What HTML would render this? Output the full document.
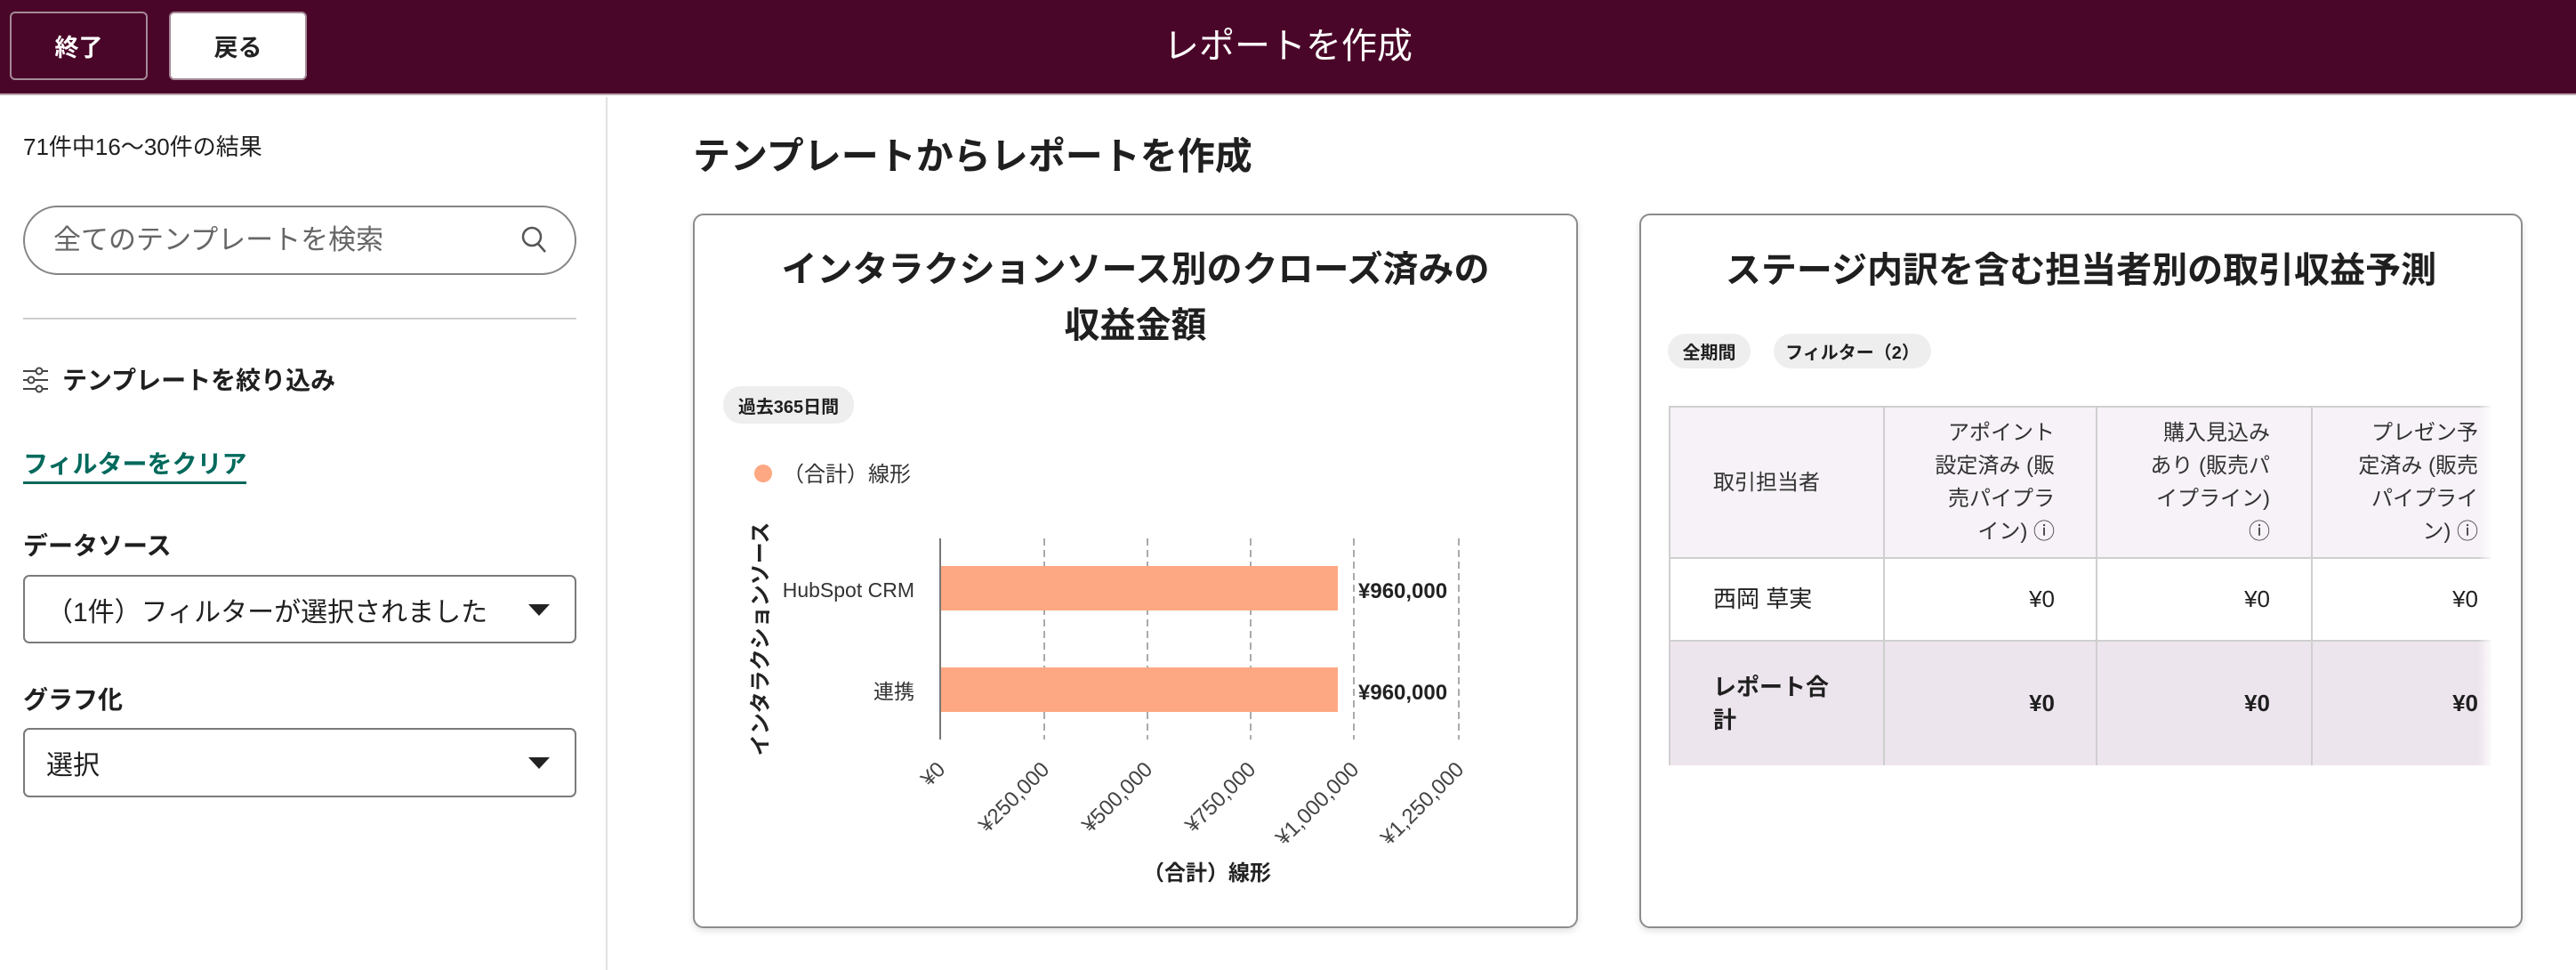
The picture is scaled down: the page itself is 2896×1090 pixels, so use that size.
<!DOCTYPE html>
<html><head><meta charset="utf-8">
<style>
*{margin:0;padding:0;box-sizing:border-box}
body{width:2896px;height:1090px;overflow:hidden;background:#fff;font-family:"Liberation Sans","Noto Sans CJK JP",sans-serif;color:#1f1f1f;position:relative}
.a{position:absolute;white-space:nowrap}
.hdr{left:0;top:0;width:2896px;height:107px;background:#4a0629;border-bottom:2px solid #b9a3ae}
.btn{top:13px;height:77px;width:155px;border:2px solid #a58a98;border-radius:6px;font-size:27px;font-weight:bold;display:flex;align-items:center;justify-content:center}
.card{border:2px solid #8c8c8c;border-radius:12px;background:#fff;box-shadow:0 3px 8px rgba(0,0,0,.12)}
.chip{background:#eeeeee;border-radius:20px;font-size:20px;font-weight:bold;display:flex;align-items:center;justify-content:center}
.sel{left:26px;width:622px;border:2px solid #7a7a7a;border-radius:7px;font-size:30px;display:flex;align-items:center;padding-left:24px}
.tri{position:absolute;right:28px;top:50%;margin-top:-6px;border-left:12px solid transparent;border-right:12px solid transparent;border-top:13px solid #222}
td{border:2px solid #cfcfcf;font-size:24px;line-height:37px;vertical-align:middle}
.h{text-align:right;white-space:nowrap;color:#333}
</style></head><body>
<div class="a hdr"></div>
<div class="a btn" style="left:11px;color:#fff;background:#4a0629">終了</div>
<div class="a btn" style="left:190px;background:#fff;color:#222">戻る</div>
<div class="a" style="left:0;width:2896px;top:24px;text-align:center;font-size:40px;color:#fff;line-height:56px">レポートを作成</div>

<div class="a" style="left:681px;top:109px;width:2px;height:981px;background:#e2e2e2"></div>
<div class="a" style="left:26px;top:148px;font-size:26px;line-height:34px">71件中16〜30件の結果</div>
<div class="a" style="left:26px;top:231px;width:622px;height:78px;border:2px solid #858585;border-radius:40px"></div>
<div class="a" style="left:60px;top:250px;font-size:31px;color:#666;line-height:40px">全てのテンプレートを検索</div>
<svg class="a" style="left:584px;top:252px" width="34" height="36"><circle cx="14" cy="14" r="10" fill="none" stroke="#555" stroke-width="2.5"/><line x1="21" y1="22" x2="29" y2="31" stroke="#555" stroke-width="2.5"/></svg>
<div class="a" style="left:26px;top:357px;width:622px;height:2px;background:#cfcfcf"></div>
<svg class="a" style="left:26px;top:412px" width="30" height="30" stroke="#444" stroke-width="2" fill="#fff"><line x1="0" y1="5" x2="28" y2="5"/><line x1="0" y1="15" x2="28" y2="15"/><line x1="0" y1="25" x2="28" y2="25"/><circle cx="18" cy="5" r="3.5"/><circle cx="9" cy="15" r="3.5"/><circle cx="18" cy="25" r="3.5"/></svg>
<div class="a" style="left:70px;top:409px;font-size:28px;font-weight:bold;line-height:38px">テンプレートを絞り込み</div>
<div class="a" style="left:26px;top:503px;font-size:28px;font-weight:bold;line-height:38px;color:#00695c;border-bottom:3px solid #00695c">フィルターをクリア</div>
<div class="a" style="left:26px;top:595px;font-size:28px;font-weight:bold;line-height:38px">データソース</div>
<div class="a sel" style="top:646px;height:77px">（1件）フィルターが選択されました<span class="tri"></span></div>
<div class="a" style="left:26px;top:768px;font-size:28px;font-weight:bold;line-height:38px">グラフ化</div>
<div class="a sel" style="top:818px;height:78px">選択<span class="tri"></span></div>

<div class="a" style="left:779px;top:150px;font-size:42px;font-weight:bold;line-height:52px">テンプレートからレポートを作成</div>

<div class="a card" style="left:779px;top:240px;width:995px;height:803px"></div>
<div class="a" style="left:779px;width:995px;top:272px;text-align:center;font-size:40px;font-weight:bold;line-height:63px;white-space:normal">インタラクションソース別のクローズ済みの<br>収益金額</div>
<div class="a chip" style="left:813px;top:434px;width:147px;height:42px">過去365日間</div>
<svg class="a" style="left:0;top:0" width="2896" height="1090" font-family="Liberation Sans, Noto Sans CJK JP, sans-serif">
<circle cx="858" cy="532" r="10" fill="#fda882"/>
<text x="880" y="541" font-size="24" fill="#333">（合計）線形</text>
<g stroke="#aaa" stroke-width="2" stroke-dasharray="8,5">
<line x1="1174" y1="605" x2="1174" y2="831"/><line x1="1290" y1="605" x2="1290" y2="831"/><line x1="1406" y1="605" x2="1406" y2="831"/><line x1="1522" y1="605" x2="1522" y2="831"/><line x1="1640" y1="605" x2="1640" y2="831"/></g>
<rect x="1058" y="636" width="446" height="50" fill="#fda882"/>
<rect x="1058" y="750" width="446" height="50" fill="#fda882"/>
<line x1="1057" y1="605" x2="1057" y2="831" stroke="#777" stroke-width="2"/>
<text x="1527" y="672" font-size="24" font-weight="bold" fill="#222">¥960,000</text>
<text x="1527" y="786" font-size="24" font-weight="bold" fill="#222">¥960,000</text>
<text x="1028" y="671" font-size="23" fill="#333" text-anchor="end">HubSpot CRM</text>
<text x="1028" y="785" font-size="23" fill="#333" text-anchor="end">連携</text>
<text transform="translate(863,718) rotate(-90)" font-size="24" font-weight="bold" text-anchor="middle" fill="#222">インタラクションソース</text>
<g font-size="24" fill="#444" text-anchor="end">
<text transform="translate(1064,866) rotate(-45)">¥0</text>
<text transform="translate(1181,866) rotate(-45)">¥250,000</text>
<text transform="translate(1297,866) rotate(-45)">¥500,000</text>
<text transform="translate(1413,866) rotate(-45)">¥750,000</text>
<text transform="translate(1529,866) rotate(-45)">¥1,000,000</text>
<text transform="translate(1647,866) rotate(-45)">¥1,250,000</text>
</g>
<text x="1357" y="989" font-size="24" font-weight="bold" text-anchor="middle" fill="#222">（合計）線形</text>
</svg>

<div class="a card" style="left:1843px;top:240px;width:993px;height:803px"></div>
<div class="a" style="left:1843px;width:993px;top:274px;text-align:center;font-size:40px;font-weight:bold;line-height:60px">ステージ内訳を含む担当者別の取引収益予測</div>
<div class="a chip" style="left:1875px;top:375px;width:93px;height:39px">全期間</div>
<div class="a chip" style="left:1994px;top:375px;width:177px;height:39px">フィルター（2）</div>
<div class="a" style="left:1876px;top:456px;width:924px;height:404px;overflow:hidden">
<table style="border-collapse:collapse;width:1100px;table-layout:fixed">
<colgroup><col style="width:241px"><col style="width:239px"><col style="width:242px"><col style="width:378px"></colgroup>
<tr style="height:170px;background:#f6f2f7"><td style="padding-left:48px;color:#333">取引担当者</td>
<td class="h" style="padding-right:46px">アポイント<br>設定済み (販<br>売パイプラ<br>イン) ⓘ</td>
<td class="h" style="padding-right:46px">購入見込み<br>あり (販売パ<br>イプライン)<br>ⓘ</td>
<td class="h" style="padding-right:190px">プレゼン予<br>定済み (販売<br>パイプライ<br>ン) ⓘ</td></tr>
<tr style="height:93px"><td style="padding-left:48px;font-size:26px">西岡 草実</td><td style="text-align:right;padding-right:46px;font-size:26px">¥0</td><td style="text-align:right;padding-right:46px;font-size:26px">¥0</td><td style="text-align:right;padding-right:190px;font-size:26px">¥0</td></tr>
<tr style="height:141px;background:#ede5ed;font-weight:bold"><td style="padding-left:48px;font-size:26px;white-space:normal;padding-right:60px">レポート合計</td><td style="text-align:right;padding-right:46px;font-size:26px">¥0</td><td style="text-align:right;padding-right:46px;font-size:26px">¥0</td><td style="text-align:right;padding-right:190px;font-size:26px">¥0</td></tr>
</table></div>
<div class="a" style="left:2786px;top:456px;width:18px;height:404px;background:linear-gradient(90deg,rgba(255,255,255,0),#fff)"></div>
</body></html>
